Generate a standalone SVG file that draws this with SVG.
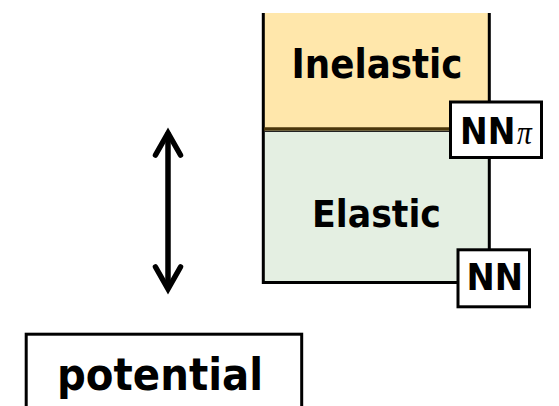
<svg xmlns="http://www.w3.org/2000/svg" width="559" height="406" viewBox="0 0 559 406">
  <style>
    .lbl { font-family: "DejaVu Sans", Verdana, sans-serif; font-weight: bold; fill: #000; }
    .frame { fill: none; stroke: #000; stroke-width: 3; }
    .tag { fill: #fff; stroke: #000; stroke-width: 3; }
    .arrow { fill: none; stroke: #000; stroke-width: 5.5; stroke-linecap: round; stroke-linejoin: miter; }
    .pi { font-family: "Liberation Serif", "DejaVu Serif", serif; font-style: italic; font-weight: normal; }
  </style>
  <rect width="559" height="406" fill="#fff"/>

  <!-- Inelastic region -->
  <g id="inelastic">
    <rect x="263" y="13" width="226" height="117" fill="#FFE7AB"/>
    <text class="lbl" x="291.5" y="77.5" font-size="40" textLength="171" lengthAdjust="spacingAndGlyphs">Inelastic</text>
  </g>

  <!-- Elastic region -->
  <g id="elastic">
    <rect x="263" y="130" width="226" height="152" fill="#E4EFE2"/>
    <text class="lbl" x="312" y="227" font-size="37" textLength="129" lengthAdjust="spacingAndGlyphs">Elastic</text>
  </g>

  <!-- column outline and threshold line -->
  <g id="column-frame">
    <path class="frame" d="M263.3,13 V282.5 H489.3 V13"/>
    <line x1="264" y1="129" x2="489" y2="129" stroke="#4A360B" stroke-width="3.5"/>
    <line x1="264" y1="131.5" x2="489" y2="131.5" stroke="#222" stroke-width="1.2"/>
  </g>

  <!-- NNπ threshold tag -->
  <g id="nnpi">
    <rect class="tag" x="450.5" y="102" width="91" height="55.5"/>
    <text class="lbl" transform="translate(460,143.5) scale(0.87,1)" font-size="38">NN<tspan class="pi" dx="2" font-size="34">π</tspan></text>
  </g>

  <!-- NN threshold tag -->
  <g id="nn">
    <rect class="tag" x="458" y="249.8" width="71.5" height="57"/>
    <text class="lbl" x="466.5" y="289.5" font-size="38" textLength="56.5" lengthAdjust="spacingAndGlyphs">NN</text>
  </g>

  <!-- potential box -->
  <g id="potential">
    <rect class="tag" x="26.2" y="334.2" width="275.5" height="100"/>
    <text class="lbl" x="57" y="389.5" font-size="45" textLength="206" lengthAdjust="spacingAndGlyphs">potential</text>
  </g>

  <!-- double-headed arrow -->
  <g id="connectors">
    <line class="arrow" x1="168" y1="134" x2="168" y2="287"/>
    <polyline class="arrow" points="155.5,155 168,133 180.5,155"/>
    <polyline class="arrow" points="155.5,267 168,289 180.5,267"/>
  </g>
</svg>
